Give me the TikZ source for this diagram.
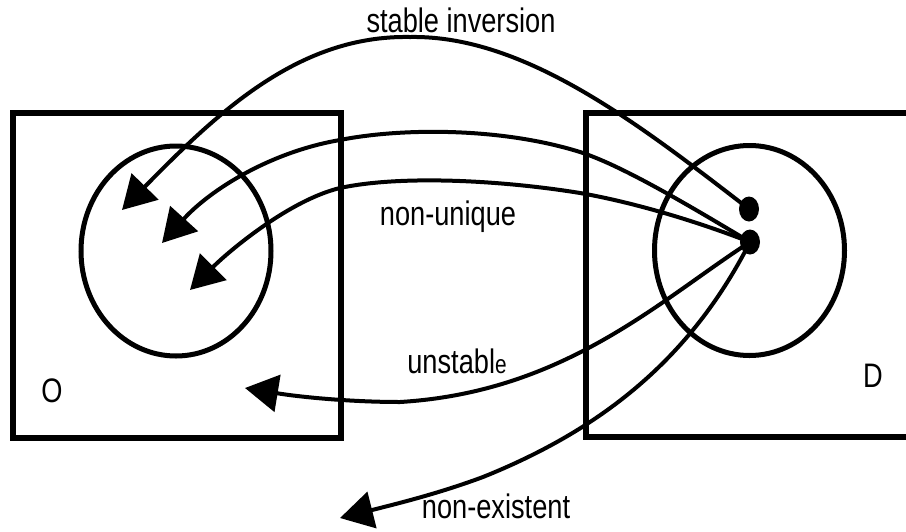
\documentclass[tikz,border=0pt]{standalone}
\usepackage{fontspec}
\setmainfont{Liberation Sans}[FakeStretch=0.8]
\usetikzlibrary{arrows.meta,shapes.geometric}
\begin{document}
\begin{tikzpicture}[x=1pt,y=-1pt,
  boxline/.style={line width=6pt},
  setcirc/.style={draw, ellipse, line width=5pt, minimum width=190pt, minimum height=210pt, inner sep=0pt},
  dotnode/.style={ellipse, fill=black, minimum width=20pt, minimum height=25pt, inner sep=0pt},
  conn/.style={line width=4pt, -{Triangle[length=33pt,width=37pt]}},
  lbl/.style={font=\fontsize{34}{34}\selectfont, anchor=base, inner sep=0pt}]
\useasboundingbox (0,0) rectangle (906,531);
% boxes
\draw[boxline] (12.5,113) rectangle (340.5,438);
\draw[boxline] (910,113) -- (585.5,113) -- (585.5,437) -- (910,437);
% circles
\node[setcirc] (cO) at (176,251) {};
\node[setcirc] (cD) at (749.5,250.5) {};
% dots
\node[dotnode] (d1) at (749,209) {};
\node[dotnode] (d2) at (750,242) {};
% arrow tips
\coordinate (t1) at (122,210);
\coordinate (t2) at (162,243);
\coordinate (t3) at (190,290);
\coordinate (t4) at (245,388);
\coordinate (t5) at (340,518);
% connectors
\draw[conn] (d1.center) .. controls (640,125) and (525,35) .. (410,37)
  .. controls (300,35) and (220,110) .. (t1);
\draw[conn] (d2.center) .. controls (680,200) and (620,165) .. (580,152)
  .. controls (500,127) and (400,128) .. (340,140)
  .. controls (270,152) and (210,190) .. (t2);
\draw[conn] (d2.center) .. controls (680,215) and (620,200) .. (580,193)
  .. controls (500,180) and (400,175) .. (340,188)
  .. controls (290,200) and (230,250) .. (t3);
\draw[conn] (d2.center) .. controls (660,300) and (565,392) .. (400,402)
  .. controls (350,402) and (300,397) .. (t4);
\draw[conn] (d2.center) .. controls (690,360) and (600,430) .. (483,477)
  .. controls (440,493) and (400,503) .. (t5);
% labels
\node[lbl] (l1) at (461,32) {stable inversion};
\node[lbl] (l2) at (448,225) {non-unique};
\node[lbl] (l3) at (457,373) {unstabl{\fontsize{26}{26}\selectfont e}};
\node[lbl] (l4) at (496,518) {non-existent};
\node[lbl] (lO) at (52,402) {O};
\node[lbl] (lD) at (873,387) {D};
\end{tikzpicture}
\end{document}
